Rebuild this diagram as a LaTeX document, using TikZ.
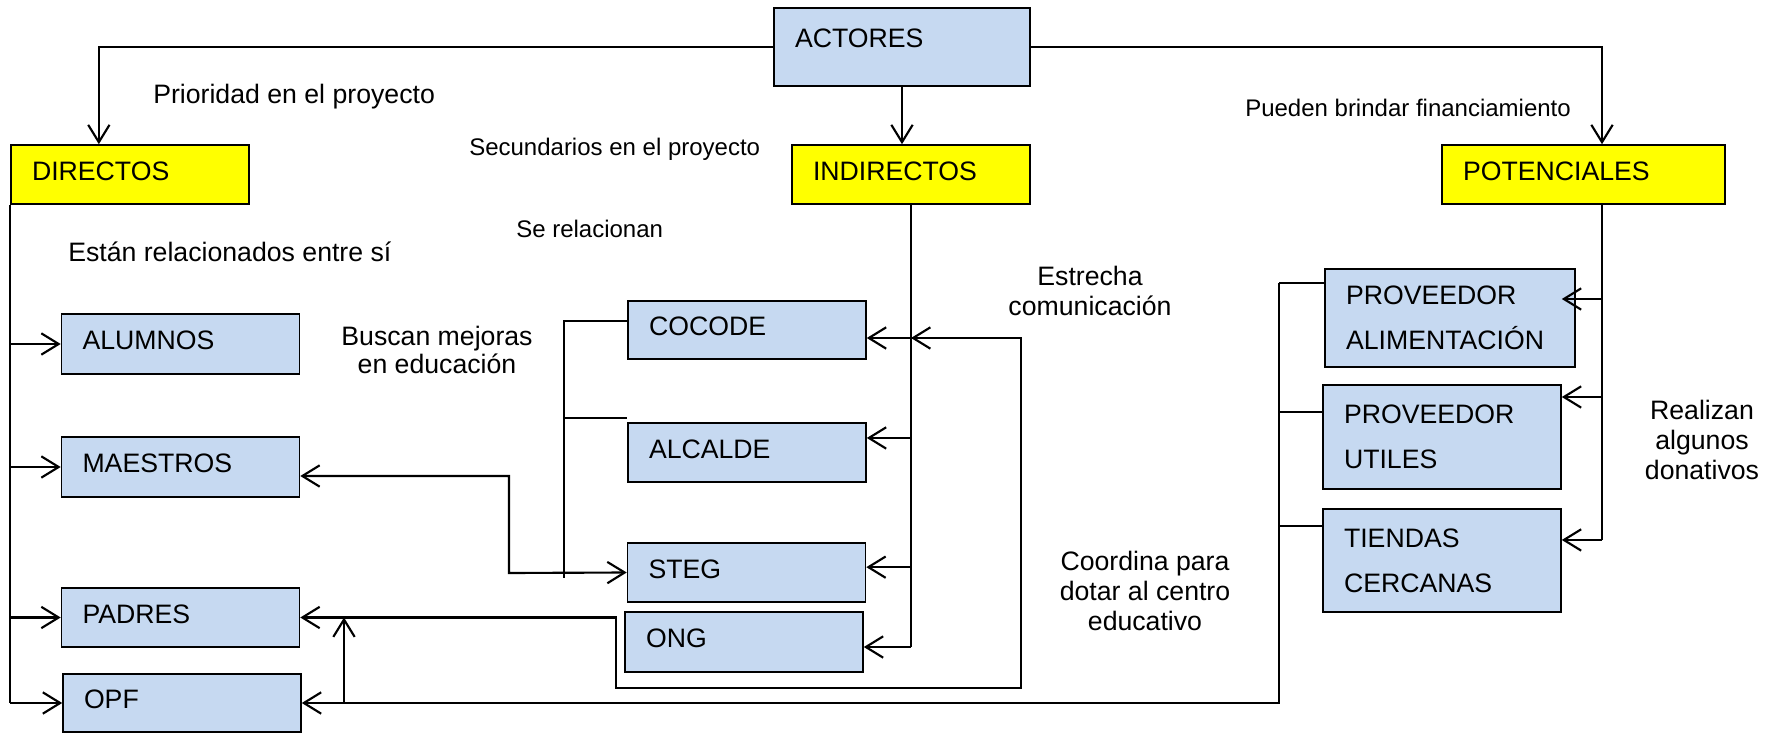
\documentclass[tikz,border=0pt]{standalone}
\usepackage{fontspec}
\setmainfont{Liberation Sans}
\usetikzlibrary{arrows.meta,calc}
\definecolor{boxblue}{HTML}{C6D9F1}
\definecolor{boxyellow}{HTML}{FFFF00}
\begin{document}
\begin{tikzpicture}[x=0.75pt,y=-0.75pt,
  base/.style={draw=black, line width=1.2pt, inner xsep=15.75pt, inner ysep=0pt, align=left,
    font=\fontsize{20}{24}\selectfont, text width=147pt, text depth=5pt},
  bluebox/.style={base, fill=boxblue},
  yellowbox/.style={base, fill=boxyellow},
  twoline/.style={font=\fontsize{20}{33.75}\selectfont, text depth=},
  lbl/.style={inner sep=0pt, font=\fontsize{20}{22.5}\selectfont, align=center},
  slbl/.style={inner sep=0pt, font=\fontsize{18}{21}\selectfont, anchor=west},
  ln/.style={line width=1.1pt},
  tipb/.tip={Straight Barb[length=13pt,width=16pt]},
  arr/.style={line width=1.6pt, -tipb},
  arrs/.style={line width=1.6pt, tipb-},
  arrb/.style={line width=1.6pt, tipb-tipb},
]
\useasboundingbox (0,0) rectangle (1778,734);

% boxes
\node[bluebox, text width=160.5pt, minimum height=58.5pt, text depth=13.5pt] (actores) at (902,47) {ACTORES};
\node[yellowbox, minimum height=44.25pt] (directos) at (130,174.5) {DIRECTOS};
\node[yellowbox, minimum height=44.25pt] (indirectos) at (911,174.5) {INDIRECTOS};
\node[yellowbox, text width=180.75pt, minimum height=44.25pt] (potenciales) at (1583.5,174.5) {POTENCIALES};

\node[bluebox, minimum height=45pt] (alumnos) at (180.5,344) {ALUMNOS};
\node[bluebox, minimum height=45pt] (maestros) at (180.5,467) {MAESTROS};
\node[bluebox, minimum height=44.25pt] (padres) at (180.5,617.5) {PADRES};
\node[bluebox, minimum height=43.5pt] (opf) at (182,703) {OPF};

\node[bluebox, minimum height=43.5pt] (cocode) at (747,330) {COCODE};
\node[bluebox, minimum height=44.25pt] (alcalde) at (747,452.5) {ALCALDE};
\node[bluebox, minimum height=44.25pt] (steg) at (746.5,572.5) {STEG};
\node[bluebox, minimum height=45pt] (ong) at (744,642) {ONG};

\node[bluebox, twoline, text width=156pt, minimum height=73.5pt] (palim) at (1450,318) {PROVEEDOR\\ALIMENTACIÓN};
\node[bluebox, twoline, minimum height=78pt] (putiles) at (1442,437) {PROVEEDOR\\UTILES};
\node[bluebox, twoline, minimum height=77.25pt] (tiendas) at (1442,560.5) {TIENDAS\\CERCANAS};

% labels
\node[lbl, anchor=west] (lprio) at (153,97) {Prioridad en el proyecto};
\node[slbl] (lsec) at (469,149) {Secundarios en el proyecto};
\node[slbl] (lpue) at (1245,108) {Pueden brindar financiamiento};
\node[slbl] (lserel) at (516,229) {Se relacionan};
\node[lbl, anchor=west] (lest) at (68,252) {Están relacionados entre sí};
\node[lbl, font=\fontsize{20}{21}\selectfont] (lbus) at (437,350) {Buscan mejoras\\en educación};
\node[lbl] (lestr) at (1090,291) {Estrecha\\comunicación};
\node[lbl] (lcoor) at (1145,591) {Coordina para\\dotar al centro\\educativo};
\node[lbl] (lreal) at (1702,440) {Realizan\\algunos\\donativos};

% ACTORES to the three groups
\draw[arr] (actores.west) -| ($(directos.north west)!0.37!(directos.north east)$);
\draw[arr] (actores.south) -- (actores.south |- indirectos.north);
\draw[arr] (actores.east) -| ($(potenciales.north west)!0.565!(potenciales.north east)$);

% DIRECTOS
\draw[ln] (directos.south west) -- (directos.south west |- opf.west);
\draw[arr] (directos.south west |- alumnos.west) -- (alumnos.west);
\draw[arr] (directos.south west |- maestros.west) -- (maestros.west);
\draw[arr] (directos.south west |- padres.west) -- (padres.west);
\draw[arr] (directos.south west |- opf.west) -- (opf.west);

% INDIRECTOS
\coordinate (cE) at ([yshift=-6pt]cocode.east);
\coordinate (aE) at ([yshift=10.9pt]alcalde.east);
\coordinate (sE) at ([yshift=4pt]steg.east);
\coordinate (oE) at ([yshift=-3.75pt]ong.east);
\draw[ln] (indirectos.south) -- (indirectos.south |- oE);
\draw[arr] (indirectos.south |- cE) -- (cE);
\draw[arr] (indirectos.south |- aE) -- (aE);
\draw[arr] (indirectos.south |- sE) -- (sE);
\draw[arr] (indirectos.south |- oE) -- (oE);

% Se relacionan bracket
\coordinate (b1) at (564,321);
\coordinate (b2) at (564,418);
\coordinate (b3) at (564,578);
\draw[ln] (cocode.west |- b1) -- (b1) -- (b3);
\draw[ln] (b2) -- (alcalde.west |- b2);

% MAESTROS <-> STEG
\coordinate (ms) at (509,573);
\draw[arrb] ([yshift=-6.75pt]maestros.east) -| (ms) -- (steg.west);

% PADRES <-> INDIRECTOS (Estrecha comunicacion)
\coordinate (lw) at (616,688);
\coordinate (le) at (1021,338);
\draw[arrb] (padres.east) -| (lw) -| (le) -- (indirectos.south |- le);

% OPF <- providers
\coordinate (pv) at (1279,283);
\coordinate (uW) at ([yshift=18.75pt]putiles.west);
\coordinate (tW) at ([yshift=25.9pt]tiendas.west);
\draw[arrs] (opf.east) -| (pv);
\draw[ln] (pv) -- (pv -| palim.west);
\draw[ln] (pv |- uW) -- (uW);
\draw[ln] (pv |- tW) -- (tW);
\coordinate (up) at (344,703);
\draw[arr] (up) -- (up |- padres.east);

% POTENCIALES
\coordinate (pt) at ($(potenciales.south west)!0.565!(potenciales.south east)$);
\coordinate (paE) at ([xshift=-10.5pt,yshift=14.25pt]palim.east);
\coordinate (puE) at ([yshift=30pt]putiles.east);
\coordinate (tiE) at ([yshift=15.4pt]tiendas.east);
\draw[ln] (pt) -- (pt |- tiE);
\draw[arr] (pt |- paE) -- (paE);
\draw[arr] (pt |- puE) -- (puE);
\draw[arr] (pt |- tiE) -- (tiE);
\end{tikzpicture}
\end{document}
